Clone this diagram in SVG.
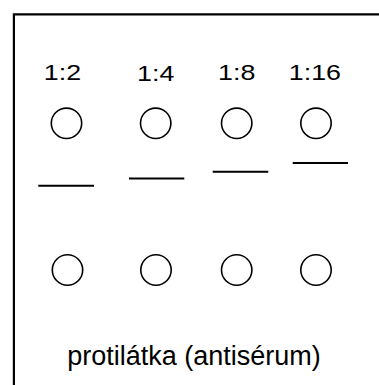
<svg xmlns="http://www.w3.org/2000/svg" width="379" height="385" viewBox="0 0 379 385">
<style>
.frame{fill:none;stroke:#000;stroke-width:2.2}
.well{fill:#fff;stroke:#000;stroke-width:1.6}
.band{stroke:#000;stroke-width:2}
.lbl{font-family:"Liberation Sans",Arial,sans-serif;font-size:22px;fill:#000}
.cap{font-family:"Liberation Sans",Arial,sans-serif;font-size:27px;fill:#000}
</style>
<rect width="379" height="385" fill="#fff"/>
<path class="frame" d="M13.9,390 V14.3 H390"/>
<g id="col1">
<text class="lbl" x="43.8" y="80" textLength="37.3" lengthAdjust="spacingAndGlyphs">1:2</text>
<circle class="well" cx="66.5" cy="123.3" r="15.2"/>
<circle class="well" cx="67.5" cy="270" r="15.2"/>
</g>
<g id="col2">
<text class="lbl" x="137.1" y="81" textLength="37.3" lengthAdjust="spacingAndGlyphs">1:4</text>
<circle class="well" cx="155.7" cy="123.3" r="15.2"/>
<circle class="well" cx="156" cy="270" r="15.2"/>
</g>
<g id="col3">
<text class="lbl" x="218.1" y="80" textLength="37.3" lengthAdjust="spacingAndGlyphs">1:8</text>
<circle class="well" cx="236.7" cy="123.3" r="15.2"/>
<circle class="well" cx="236.7" cy="270" r="15.2"/>
</g>
<g id="col4">
<text class="lbl" x="288.8" y="79.5" textLength="52.2" lengthAdjust="spacingAndGlyphs">1:16</text>
<circle class="well" cx="316" cy="123.3" r="15.2"/>
<circle class="well" cx="316" cy="270" r="15.2"/>
</g>
<g id="connectors">
<line class="band" x1="38.3" y1="185.8" x2="94" y2="185.8"/>
<line class="band" x1="129" y1="178.4" x2="184.3" y2="178.4"/>
<line class="band" x1="212.7" y1="171.7" x2="268.3" y2="171.7"/>
<line class="band" x1="292.7" y1="163" x2="348" y2="163"/>
</g>
<g id="caption">
<text class="cap" x="67.2" y="365">protilátka (antisérum)</text>
</g>
</svg>
